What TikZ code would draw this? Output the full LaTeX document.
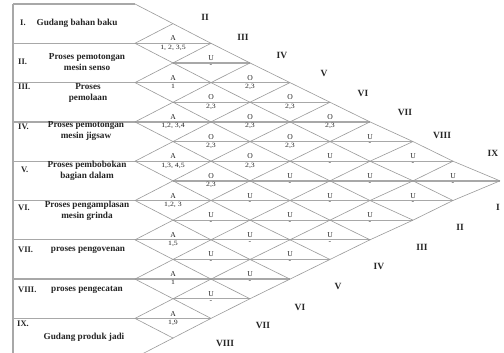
\documentclass[tikz,border=0pt]{standalone}
\usepackage{fontspec}
\setmainfont{Liberation Serif}
\newfontfamily\numfont[FakeStretch=1.2]{Liberation Serif}
\definecolor{linegray}{HTML}{9A9A9A}
\definecolor{hgray}{HTML}{A8A8A8}
\definecolor{inkgray}{HTML}{262626}
\begin{document}
\begin{tikzpicture}[x=1pt,y=-1pt,
  hline/.style={draw=hgray, line width=1.3pt},
  dline/.style={draw=linegray, line width=0.6pt},
  rowlbl/.style={font=\bfseries\fontsize{9.2}{11.5}\selectfont, text=inkgray, align=center, inner sep=0pt},
  rownum/.style={font=\bfseries\fontsize{8.5}{10}\selectfont, text=inkgray, anchor=west, inner sep=0pt},
  rel/.style={font=\fontsize{7.6}{7.6}\selectfont, text=inkgray, anchor=south, inner sep=0pt},
  why/.style={font=\numfont\fontsize{6.5}{6.5}\selectfont, text=inkgray, anchor=north, inner sep=0pt},
  roman/.style={font=\bfseries\fontsize{9.5}{10}\selectfont, text=inkgray, inner sep=0pt},
]
\useasboundingbox[fill=white] (0,0) rectangle (504,353);
% lattice points
\foreach \xx [count=\k from 0] in {135,173,211,250,290,330,370,413,453,500}{
  \foreach \m in {0,...,18}{
    \coordinate (P-\k-\m) at (\xx,{4+\m*19.65});
  }
}
\foreach \m in {0,2,...,18}{
  \coordinate (L-\m) at (13,{4+\m*19.65});
}
% left vertical
\draw[hline] (L-0) -- (L-18);
% horizontal lines at row boundaries
\foreach \m in {0,2,...,18}{
  \pgfmathtruncatemacro\kmax{min(\m,18-\m)}
  \draw[hline] (L-\m) -- (P-\kmax-\m);
}
% horizontal lines through diamond centres on row centres
\foreach \m in {3,5,...,15}{
  \pgfmathtruncatemacro\kmax{min(\m,18-\m)}
  \draw[hline] (P-1-\m) -- (P-\kmax-\m);
}
% down-right diagonals
\foreach \c in {0,2,...,16}{
  \pgfmathtruncatemacro\tmax{(18-\c)/2-1}
  \foreach \t in {0,...,\tmax}{
    \pgfmathtruncatemacro\a{\c+\t}
    \pgfmathtruncatemacro\tt{\t+1}
    \pgfmathtruncatemacro\b{\c+\t+1}
    \draw[dline] (P-\t-\a) -- (P-\tt-\b);
  }
}
% up-right diagonals
\foreach \c in {2,4,...,18}{
  \pgfmathtruncatemacro\tmax{\c/2-1}
  \foreach \t in {0,...,\tmax}{
    \pgfmathtruncatemacro\a{\c-\t}
    \pgfmathtruncatemacro\tt{\t+1}
    \pgfmathtruncatemacro\b{\c-\t-1}
    \draw[dline] (P-\t-\a) -- (P-\tt-\b);
  }
}
% relationship entries
\foreach \i/\j/\r/\w in {
  1/2/A/{1, 2, 3,5}, 2/3/A/1, 3/4/A/{1,2, 3,4}, 4/5/A/{1,3, 4,5},
  5/6/A/{1,2, 3}, 6/7/A/{1,5}, 7/8/A/1, 8/9/A/{1,9},
  1/3/U/-, 2/4/O/{2,3}, 3/5/O/{2,3}, 4/6/O/{2,3}, 5/7/U/-, 6/8/U/-, 7/9/U/-,
  1/4/O/{2,3}, 2/5/O/{2,3}, 3/6/O/{2,3}, 4/7/U/-, 5/8/U/-, 6/9/U/-,
  1/5/O/{2,3}, 2/6/O/{2,3}, 3/7/U/-, 4/8/U/-, 5/9/U/-,
  1/6/O/{2,3}, 2/7/U/-, 3/8/U/-, 4/9/U/-,
  1/7/U/-, 2/8/U/-, 3/9/U/-,
  1/8/U/-, 2/9/U/-,
  1/9/U/-}{
  \pgfmathtruncatemacro\k{\j-\i}
  \pgfmathtruncatemacro\m{\i+\j-1}
  \node[rel] (r-\i-\j) at ([yshift=2.2pt]P-\k-\m) {\r};
  \node[why] (w-\i-\j) at ([yshift=-1.4pt]P-\k-\m) {\w};
}
% row labels
\node[rownum] (n1) at (20,23) {I.};
\node[rowlbl] (t1) at (77,23) {Gudang bahan baku};
\node[rownum] (n2) at (18,62) {II.};
\node[rowlbl] (t2) at (87,62) {Proses pemotongan\\mesin senso};
\node[rownum] (n3) at (18,87) {III.};
\node[rowlbl] (t3) at (88,93) {Proses\\pemolaan};
\node[rownum] (n4) at (18,127) {IV.};
\node[rowlbl] (t4) at (86,131) {Proses pemotongan\\mesin jigsaw};
\node[rownum] (n5) at (21,170) {V.};
\node[rowlbl] (t5) at (87,171) {Proses pembobokan\\bagian dalam};
\node[rownum] (n6) at (18,208) {VI.};
\node[rowlbl] (t6) at (87,211) {Proses pengamplasan\\mesin grinda};
\node[rownum] (n7) at (18,250) {VII.};
\node[rowlbl] (t7) at (88,250) {proses pengovenan};
\node[rownum] (n8) at (18,290) {VIII.};
\node[rowlbl] (t8) at (87,290) {proses pengecatan};
\node[rownum] (n9) at (17,324) {IX.};
\node[rowlbl] (t9) at (84,337) {Gudang produk jadi};
% column numerals (top side)
\node[roman] (c2) at (205,17) {II};
\node[roman] (c3) at (243,37) {III};
\node[roman] (c4) at (282,55) {IV};
\node[roman] (c5) at (324,73) {V};
\node[roman] (c6) at (363,93) {VI};
\node[roman] (c7) at (405,112) {VII};
\node[roman] (c8) at (442,135) {VIII};
\node[roman] (c9) at (493,153) {IX};
% column numerals (bottom side)
\node[roman] (d1) at (498,207) {I};
\node[roman] (d2) at (460,227) {II};
\node[roman] (d3) at (422,247) {III};
\node[roman] (d4) at (379,266) {IV};
\node[roman] (d5) at (338,286) {V};
\node[roman] (d6) at (300,307) {VI};
\node[roman] (d7) at (263,325) {VII};
\node[roman] (d8) at (225,343) {VIII};
\end{tikzpicture}
\end{document}
